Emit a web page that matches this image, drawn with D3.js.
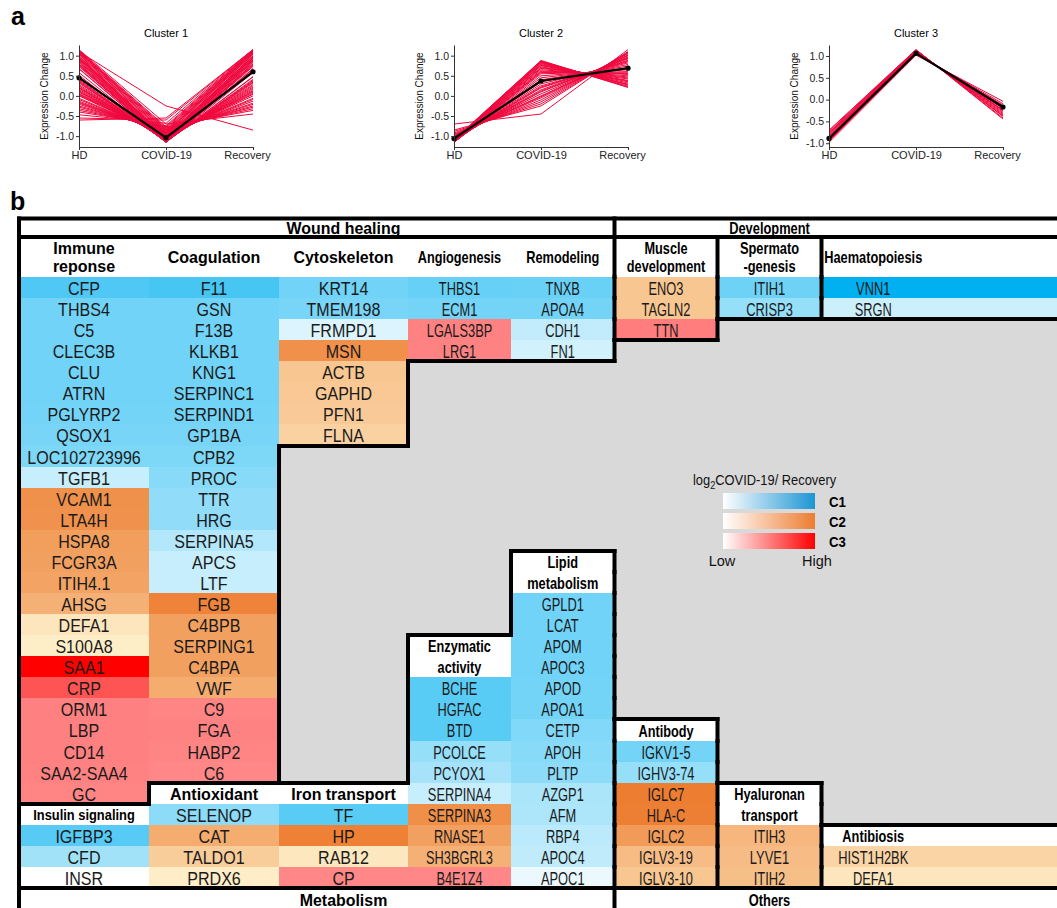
<!DOCTYPE html>
<html>
<head>
<meta charset="utf-8">
<title>Protein expression clusters and functional groups</title>
<script src="https://cdn.jsdelivr.net/npm/d3@7"></script>
<style>
  html, body { margin: 0; padding: 0; background: #ffffff; }
  svg { display: block; }
  text { font-family: "Liberation Sans", Arial, Helvetica, sans-serif; }
</style>
</head>
<body>
<svg id="figure" width="1057" height="908"></svg>
<script>
// ---------- Panel a: standardised expression profiles (HD, COVID-19, Recovery) ----------
const timePoints = ["HD", "COVID-19", "Recovery"];
const yTicks = [-1, -0.5, 0, 0.5, 1];

const cluster1Profiles = [
  [1.10, -0.25, -0.85], [1.15, -0.70, -0.45], [-0.55, -0.60, 1.15], [-0.60, -0.55, 1.15],
  [1.12, -0.80, -0.32], [-0.32, -0.80, 1.12], [1.10, -0.85, -0.25], [-0.25, -0.85, 1.10],
  [1.08, -0.90, -0.18], [-0.18, -0.90, 1.08], [1.04, -0.95, -0.09], [-0.09, -0.95, 1.04],
  [1.00, -1.00, 0.00], [0.00, -1.00, 1.00], [0.98, -1.02, 0.04], [0.04, -1.02, 0.98],
  [0.94, -1.05, 0.11], [0.11, -1.05, 0.94], [0.89, -1.08, 0.19], [0.19, -1.08, 0.89],
  [0.85, -1.10, 0.25], [0.25, -1.10, 0.85], [0.80, -1.12, 0.32], [0.32, -1.12, 0.80],
  [0.77, -1.13, 0.36], [0.36, -1.13, 0.77], [0.73, -1.14, 0.41], [0.41, -1.14, 0.73],
  [0.67, -1.15, 0.48], [0.48, -1.15, 0.67], [0.58, -1.155, 0.58], [0.16, -1.07, 0.91],
  [0.91, -1.07, 0.16], [0.02, -1.01, 0.99], [-0.06, -0.97, 1.03], [1.03, -0.97, -0.06],
  [-0.13, -0.93, 1.06], [1.06, -0.93, -0.13], [-0.21, -0.88, 1.09], [1.09, -0.88, -0.21],
  [0.28, -1.11, 0.83], [0.83, -1.11, 0.28], [0.22, -1.09, 0.87], [0.87, -1.09, 0.22],
  [0.06, -1.03, 0.97], [0.97, -1.03, 0.06], [0.13, -1.06, 0.93], [0.93, -1.06, 0.13],
  [0.385, -1.135, 0.75], [0.75, -1.135, 0.385], [0.51, -1.152, 0.64], [-0.40, -0.74, 1.14],
  [-0.47, -0.68, 1.15], [-0.28, -0.83, 1.11], [1.11, -0.83, -0.28], [0.47, -1.148, 0.68],
  [0.68, -1.148, 0.47], [0.09, -1.04, 0.95], [0.95, -1.04, 0.09], [-0.16, -0.91, 1.07],
  [0.34, -1.125, 0.79], [0.79, -1.125, 0.34], [0.20, -1.085, 0.885], [-0.36, -0.77, 1.13],
  [1.13, -0.77, -0.36]
];
const cluster1Centroid = [0.45, -1.04, 0.60];

const cluster2Profiles = [
  [-1.09, 0.88, 0.21], [-1.10, 0.86, 0.24], [-1.11, 0.84, 0.27], [-1.11, 0.82, 0.29],
  [-1.12, 0.80, 0.32], [-1.13, 0.78, 0.35], [-1.135, 0.75, 0.385], [-1.14, 0.72, 0.42],
  [-1.145, 0.70, 0.445], [-1.15, 0.68, 0.47], [-1.15, 0.65, 0.50], [-1.154, 0.62, 0.534],
  [-1.154, 0.60, 0.554], [-1.154, 0.55, 0.604], [-1.15, 0.50, 0.65], [-1.146, 0.45, 0.696],
  [-1.14, 0.40, 0.74], [-1.13, 0.35, 0.78], [-1.12, 0.30, 0.82], [-1.10, 0.25, 0.85],
  [-1.085, 0.20, 0.885], [-1.07, 0.15, 0.92], [-1.05, 0.10, 0.95], [-1.02, 0.05, 0.97],
  [-1.00, 0.00, 1.00], [-0.97, -0.05, 1.02], [-0.95, -0.10, 1.05], [-0.92, -0.15, 1.07],
  [-0.885, -0.20, 1.085], [-0.85, -0.25, 1.10], [-0.70, -0.45, 1.15], [-1.09, 0.87, 0.22],
  [-1.11, 0.83, 0.28], [-1.13, 0.76, 0.37], [-1.155, 0.58, 0.575], [-1.09, 0.22, 0.87],
  [-1.055, 0.12, 0.935], [-0.99, -0.02, 1.01]
];
const cluster2Centroid = [-1.06, 0.37, 0.69];

const cluster3Profiles = [
  [-0.70, 1.145, -0.445], [-0.72, 1.142, -0.422], [-0.75, 1.135, -0.385], [-0.76, 1.133, -0.373],
  [-0.78, 1.127, -0.347], [-0.80, 1.121, -0.321], [-0.82, 1.114, -0.294], [-0.84, 1.106, -0.266],
  [-0.85, 1.102, -0.252], [-0.86, 1.097, -0.237], [-0.88, 1.087, -0.207], [-0.90, 1.077, -0.177],
  [-0.92, 1.064, -0.144], [-0.93, 1.058, -0.128], [-0.95, 1.043, -0.093], [-0.98, 1.019, -0.039]
];
const cluster3Centroid = [-0.89, 1.06, -0.17];

// ---------- Panel b: proteins by function, coloured by cluster and log2 COVID-19/Recovery ----------
// each entry: [protein, cluster, relative level 0..1 within the cluster colour ramp]
const immuneResponse = [
  ["CFP", 1, 0.69], ["THBS4", 1, 0.56], ["C5", 1, 0.56], ["CLEC3B", 1, 0.56], ["CLU", 1, 0.56],
  ["ATRN", 1, 0.56], ["PGLYRP2", 1, 0.55], ["QSOX1", 1, 0.53], ["LOC102723996", 1, 0.51], ["TGFB1", 1, 0.22],
  ["VCAM1", 2, 0.83], ["LTA4H", 2, 0.82], ["HSPA8", 2, 0.72], ["FCGR3A", 2, 0.70], ["ITIH4.1", 2, 0.67],
  ["AHSG", 2, 0.56], ["DEFA1", 2, 0.10], ["S100A8", 2, 0.03],
  ["SAA1", 3, 1.00], ["CRP", 3, 0.67], ["ORM1", 3, 0.50], ["LBP", 3, 0.50], ["CD14", 3, 0.50],
  ["SAA2-SAA4", 3, 0.49], ["GC", 3, 0.48]
];
const coagulation = [
  ["F11", 1, 0.72], ["GSN", 1, 0.56], ["F13B", 1, 0.56], ["KLKB1", 1, 0.56], ["KNG1", 1, 0.56],
  ["SERPINC1", 1, 0.56], ["SERPIND1", 1, 0.55], ["GP1BA", 1, 0.53], ["CPB2", 1, 0.51], ["PROC", 1, 0.47],
  ["TTR", 1, 0.43], ["HRG", 1, 0.43], ["SERPINA5", 1, 0.30], ["APCS", 1, 0.22], ["LTF", 1, 0.22],
  ["FGB", 2, 0.95], ["C4BPB", 2, 0.70], ["SERPING1", 2, 0.70], ["C4BPA", 2, 0.70], ["VWF", 2, 0.60],
  ["C9", 3, 0.48], ["FGA", 3, 0.49], ["HABP2", 3, 0.48], ["C6", 3, 0.47]
];
const cytoskeleton = [
  ["KRT14", 1, 0.56], ["TMEM198", 1, 0.53], ["FRMPD1", 1, 0.14], ["MSN", 2, 0.84],
  ["ACTB", 2, 0.38], ["GAPHD", 2, 0.36], ["PFN1", 2, 0.34], ["FLNA", 2, 0.27]
];
const angiogenesis = [["THBS1", 1, 0.60], ["ECM1", 1, 0.55], ["LGALS3BP", 3, 0.49], ["LRG1", 3, 0.49]];
const remodeling = [["TNXB", 1, 0.59], ["APOA4", 1, 0.55], ["CDH1", 1, 0.24], ["FN1", 1, 0.18]];
const muscleDevelopment = [["ENO3", 2, 0.38], ["TAGLN2", 2, 0.38], ["TTN", 3, 0.51]];
const spermatogenesis = [["ITIH1", 1, 0.57], ["CRISP3", 1, 0.41]];
const haematopoiesis = [["VNN1", 1, 1.00], ["SRGN", 1, 0.20]];
const insulinSignaling = [["IGFBP3", 1, 0.66], ["CFD", 1, 0.37], ["INSR", 1, 0.00]];
const antioxidant = [["SELENOP", 1, 0.45], ["CAT", 2, 0.60], ["TALDO1", 2, 0.32], ["PRDX6", 2, 0.04]];
const ironTransport = [["TF", 1, 0.65], ["HP", 2, 0.97], ["RAB12", 2, 0.09], ["CP", 3, 0.47]];
const enzymaticActivity = [
  ["BCHE", 1, 0.65], ["HGFAC", 1, 0.65], ["BTD", 1, 0.65], ["PCOLCE", 1, 0.41], ["PCYOX1", 1, 0.35],
  ["SERPINA4", 1, 0.22], ["SERPINA3", 2, 0.85], ["RNASE1", 2, 0.70], ["SH3BGRL3", 2, 0.56], ["B4E1Z4", 3, 0.47]
];
const lipidMetabolism = [
  ["GPLD1", 1, 0.56], ["LCAT", 1, 0.56], ["APOM", 1, 0.56], ["APOC3", 1, 0.56], ["APOD", 1, 0.55],
  ["APOA1", 1, 0.55], ["CETP", 1, 0.49], ["APOH", 1, 0.47], ["PLTP", 1, 0.45], ["AZGP1", 1, 0.33],
  ["AFM", 1, 0.32], ["RBP4", 1, 0.27], ["APOC4", 1, 0.25], ["APOC1", 1, 0.08]
];
const antibody = [
  ["IGKV1-5", 1, 0.55], ["IGHV3-74", 1, 0.41], ["IGLC7", 2, 1.00], ["HLA-C", 2, 0.98],
  ["IGLC2", 2, 0.75], ["IGLV3-19", 2, 0.46], ["IGLV3-10", 2, 0.38]
];
const hyaluronanTransport = [["ITIH3", 2, 0.51], ["LYVE1", 2, 0.46], ["ITIH2", 2, 0.44]];
const antibiosis = [["HIST1H2BK", 2, 0.26], ["DEFA1", 2, 0.10]];

const legendClusters = ["C1", "C2", "C3"];

// ---------- drawing ----------
const W = 1057;
const svg = d3.select("#figure");

svg.append("text").attr("x", 11).attr("y", 25).attr("font-size", 25).attr("font-weight", "bold").text("a");
svg.append("text").attr("x", 10).attr("y", 210).attr("font-size", 25).attr("font-weight", "bold").text("b");

// Panel a
const profilePanels = [
  { title: "Cluster 1", lines: cluster1Profiles, centroid: cluster1Centroid, left: 79 },
  { title: "Cluster 2", lines: cluster2Profiles, centroid: cluster2Centroid, left: 454 },
  { title: "Cluster 3", lines: cluster3Profiles, centroid: cluster3Centroid, left: 829 }
];
const plotW = 174, plotTop = 45, plotBottom = 147;

profilePanels.forEach(p => {
  const g = svg.append("g");
  const x = d3.scalePoint().domain(timePoints).range([p.left, p.left + plotW]);
  const [lo, hi] = d3.extent(p.lines.flat().concat(p.centroid));
  const pad = (hi - lo) * 0.05;
  const y = d3.scaleLinear().domain([lo - pad, hi + pad]).range([plotBottom, plotTop]);
  const line = d3.line().x((d, i) => x(timePoints[i])).y(d => y(d));

  g.append("g").selectAll("path").data(p.lines).join("path")
    .attr("d", line).attr("fill", "none").attr("stroke", "#f0073d").attr("stroke-width", 1);
  g.append("path").datum(p.centroid).attr("d", line)
    .attr("fill", "none").attr("stroke", "#000").attr("stroke-width", 2.2);
  g.append("g").selectAll("circle").data(p.centroid).join("circle")
    .attr("cx", (d, i) => x(timePoints[i])).attr("cy", d => y(d)).attr("r", 2.6).attr("fill", "#000");

  const ya = g.append("g").attr("transform", `translate(${p.left},0)`)
    .call(d3.axisLeft(y).tickValues(yTicks).tickFormat(d => d.toFixed(1)).tickSize(3).tickSizeOuter(0).tickPadding(2));
  const xa = g.append("g").attr("transform", `translate(0,${plotBottom})`)
    .call(d3.axisBottom(x).tickSize(3).tickSizeOuter(0).tickPadding(1));
  [ya, xa].forEach(a => a.attr("color", "#333").attr("font-family", null));
  ya.attr("font-size", 10.5);
  xa.attr("font-size", 11);
  g.selectAll(".tick text").attr("fill", "#222");
  xa.selectAll(".tick text").filter(d => d === "Recovery").attr("dx", -6);

  g.append("text").attr("transform", `translate(${p.left - 31},${(plotTop + plotBottom) / 2}) rotate(-90)`)
    .attr("text-anchor", "middle").attr("font-size", 10).attr("fill", "#111").text("Expression Change");
  g.append("text").attr("x", p.left + plotW / 2).attr("y", 37)
    .attr("text-anchor", "middle").attr("font-size", 11).attr("fill", "#000").text(p.title);
});

// Panel b layout
const colEdges = [19, 149, 279, 408, 511, 614.5, 717.5, 821.5, 925];
const wideCol = 129.5;
const colMid = c => (colEdges[c] + colEdges[c + 1]) / 2;
const colFillRight = c => (c === colEdges.length - 2 ? W + 5 : colEdges[c + 1]);
const squeeze = c => Math.min(1, (colEdges[c + 1] - colEdges[c]) / wideCol);
const nRows = 29;
const rowY = d3.scaleLinear().domain([0, nRows]).range([277, 888]);
const rowH = rowY(1) - rowY(0);
const rowTop = r => (r < 0 ? 237 : Math.round(rowY(r)));
const rowBottom = r => Math.round(rowY(r + 1));

const blocks = [
  { label: ["Immune", "reponse"], genes: immuneResponse, col: 0, place: "top", region: "Wound healing" },
  { label: ["Coagulation"], genes: coagulation, col: 1, place: "top", region: "Wound healing" },
  { label: ["Cytoskeleton"], genes: cytoskeleton, col: 2, place: "top", region: "Wound healing" },
  { label: ["Angiogenesis"], genes: angiogenesis, col: 3, place: "top", region: "Wound healing" },
  { label: ["Remodeling"], genes: remodeling, col: 4, place: "top", region: "Wound healing" },
  { label: ["Muscle", "development"], genes: muscleDevelopment, col: 5, place: "top", region: "Muscle development" },
  { label: ["Spermato", "-genesis"], genes: spermatogenesis, col: 6, place: "top", region: "Spermatogenesis" },
  { label: ["Haematopoiesis"], genes: haematopoiesis, col: 7, place: "top", region: "Haematopoiesis" },
  { label: ["Insulin signaling"], genes: insulinSignaling, col: 0, place: "bottom", headerRows: 1, region: "Metabolism", labelSize: 14, labelScale: 0.92 },
  { label: ["Antioxidant"], genes: antioxidant, col: 1, place: "bottom", headerRows: 1, region: "Metabolism" },
  { label: ["Iron transport"], genes: ironTransport, col: 2, place: "bottom", headerRows: 1, region: "Metabolism" },
  { label: ["Enzymatic", "activity"], genes: enzymaticActivity, col: 3, place: "bottom", headerRows: 2, region: "Metabolism" },
  { label: ["Lipid", "metabolism"], genes: lipidMetabolism, col: 4, place: "bottom", headerRows: 2, region: "Metabolism" },
  { label: ["Antibody"], genes: antibody, col: 5, place: "bottom", headerRows: 1, region: "Antibody" },
  { label: ["Hyaluronan", "transport"], genes: hyaluronanTransport, col: 6, place: "bottom", headerRows: 2, region: "Hyaluronan transport" },
  { label: ["Antibiosis"], genes: antibiosis, col: 7, place: "bottom", headerRows: 1, region: "Antibiosis" }
];
const groupTitles = [
  { name: "Wound healing", col: 2, edge: "top" },
  { name: "Development", col: 6, edge: "top" },
  { name: "Metabolism", col: 2, edge: "bottom" },
  { name: "Others", col: 6, edge: "bottom" }
];

const clusterFill = {
  1: d3.scaleLinear().domain([0, 1]).range(["#ffffff", "#00b0f0"]),
  2: d3.scaleLinear().domain([0, 1]).range(["#fff2cc", "#ed7d31"]),
  3: d3.scaleLinear().domain([0, 1]).range(["#ffffff", "#ff0000"])
};
const legendRamp = { C1: ["#ffffff", "#1c96d4"], C2: ["#ffffff", "#ed7d31"], C3: ["#ffffff", "#ff0000"] };

// work out which region owns every grid slot, plus header and gene cells
const owner = new Map();
const headerCells = [], geneCells = [];
blocks.forEach(b => {
  const n = b.genes.length;
  let hStart, hEnd;
  if (b.place === "top") { hStart = -1; hEnd = -1; }
  else { hStart = nRows - n - b.headerRows; hEnd = hStart + b.headerRows - 1; }
  const gStart = hEnd + 1;
  for (let r = hStart; r < gStart + n; r++) owner.set(`${b.col}:${r}`, b.region);
  headerCells.push({ b, top: rowTop(hStart), bottom: rowBottom(hEnd), twoRow: b.place === "bottom" });
  b.genes.forEach((g, i) => geneCells.push({ col: b.col, row: gStart + i, name: g[0], cluster: g[1], level: g[2] }));
});
const ownerAt = (c, r) => owner.get(`${c}:${r}`) || "";

const pb = svg.append("g");
pb.append("rect").attr("x", 19).attr("y", 237).attr("width", W - 14).attr("height", 888 - 237).attr("fill", "#d9d9d9");
pb.append("rect").attr("x", 19).attr("y", 218).attr("width", W - 14).attr("height", 19).attr("fill", "#fff");
pb.append("rect").attr("x", 19).attr("y", 888).attr("width", W - 14).attr("height", 22).attr("fill", "#fff");

pb.append("g").attr("shape-rendering", "crispEdges").selectAll("rect").data(headerCells).join("rect")
  .attr("x", d => colEdges[d.b.col]).attr("width", d => colFillRight(d.b.col) - colEdges[d.b.col])
  .attr("y", d => d.top).attr("height", d => d.bottom - d.top).attr("fill", "#fff");

pb.append("g").attr("shape-rendering", "crispEdges").selectAll("rect").data(geneCells).join("rect")
  .attr("x", d => colEdges[d.col]).attr("width", d => colFillRight(d.col) - colEdges[d.col])
  .attr("y", d => rowTop(d.row)).attr("height", d => rowBottom(d.row) - rowTop(d.row))
  .attr("fill", d => clusterFill[d.cluster](d.level));

// protein names
pb.append("g").selectAll("text").data(geneCells).join("text")
  .attr("transform", d => `translate(${colMid(d.col)},${(rowTop(d.row) + rowBottom(d.row)) / 2}) scale(${0.92 * squeeze(d.col)},1)`)
  .attr("text-anchor", "middle").attr("dy", "0.4em").attr("font-size", 17.5).attr("fill", "#1a1a1a")
  .text(d => d.name);

// functional group headers
headerCells.forEach(h => {
  const c = h.b.col, lines = h.b.label;
  const mid = (h.top + h.bottom) / 2 + (h.twoRow ? 1 : 0.4);
  const gap = h.twoRow ? rowH : 18;
  const size = h.b.labelSize || 16;
  const sx = (h.b.labelScale || 1) * squeeze(c);
  lines.forEach((t, i) => {
    pb.append("text")
      .attr("transform", `translate(${colMid(c)},${mid + (i - (lines.length - 1) / 2) * gap}) scale(${sx},1)`)
      .attr("text-anchor", "middle").attr("dy", "0.35em").attr("font-size", size)
      .attr("font-weight", "bold").attr("fill", "#000").text(t);
  });
});

// category titles above and below the table
groupTitles.forEach(t => {
  pb.append("text")
    .attr("transform", `translate(${colMid(t.col)},${t.edge === "top" ? 234 : 906}) scale(${squeeze(t.col)},1)`)
    .attr("text-anchor", "middle").attr("font-size", 16).attr("font-weight", "bold").attr("fill", "#000").text(t.name);
});

// legend
const lg = pb.append("g");
const defs = svg.append("defs");
legendClusters.forEach((k, i) => {
  const grad = defs.append("linearGradient").attr("id", `ramp-${k}`);
  grad.append("stop").attr("offset", "0%").attr("stop-color", legendRamp[k][0]);
  grad.append("stop").attr("offset", "100%").attr("stop-color", legendRamp[k][1]);
  const y0 = 493 + i * 20;
  lg.append("rect").attr("x", 723).attr("y", y0).attr("width", 92).attr("height", 16).attr("fill", `url(#ramp-${k})`);
  lg.append("text").attr("transform", `translate(829,${y0 + 13.5}) scale(0.88,1)`)
    .attr("font-size", 15).attr("font-weight", "bold").attr("fill", "#000").text(k);
});
const lt = lg.append("text").attr("transform", "translate(693,485) scale(0.92,1)").attr("font-size", 14).attr("fill", "#111");
lt.append("tspan").text("log");
lt.append("tspan").attr("dy", 4).attr("font-size", 10).text("2");
lt.append("tspan").attr("dy", -4).text("COVID-19/ Recovery");
lg.append("text").attr("x", 722).attr("y", 566).attr("text-anchor", "middle").attr("font-size", 14.5).attr("fill", "#111").text("Low");
lg.append("text").attr("x", 817).attr("y", 566).attr("text-anchor", "middle").attr("font-size", 14.5).attr("fill", "#111").text("High");

// thick outlines between regions and around the empty (grey) area
const segs = [];
for (let c = 0; c < colEdges.length - 1; c++) {
  for (let r = -1; r < nRows; r++) {
    const left = c === 0 ? "#outside" : ownerAt(c - 1, r);
    if (left !== ownerAt(c, r)) segs.push([[colEdges[c], rowTop(r)], [colEdges[c], rowBottom(r)]]);
    if (r < nRows - 1 && ownerAt(c, r) !== ownerAt(c, r + 1))
      segs.push([[colEdges[c], rowBottom(r)], [colFillRight(c), rowBottom(r)]]);
  }
}
segs.push([[19, 218.5], [W + 5, 218.5]]);
segs.push([[19, 237], [W + 5, 237]]);
segs.push([[19, 888], [W + 5, 888]]);
segs.push([[19, 218.5], [19, 912]]);
segs.push([[colEdges[5], 218.5], [colEdges[5], 237]]);
segs.push([[colEdges[5], 888], [colEdges[5], 912]]);
pb.append("g").selectAll("path").data(segs).join("path")
  .attr("d", d => d3.line()(d)).attr("stroke", "#000").attr("stroke-width", 4)
  .attr("stroke-linecap", "square").attr("fill", "none");
</script>
</body>
</html>
